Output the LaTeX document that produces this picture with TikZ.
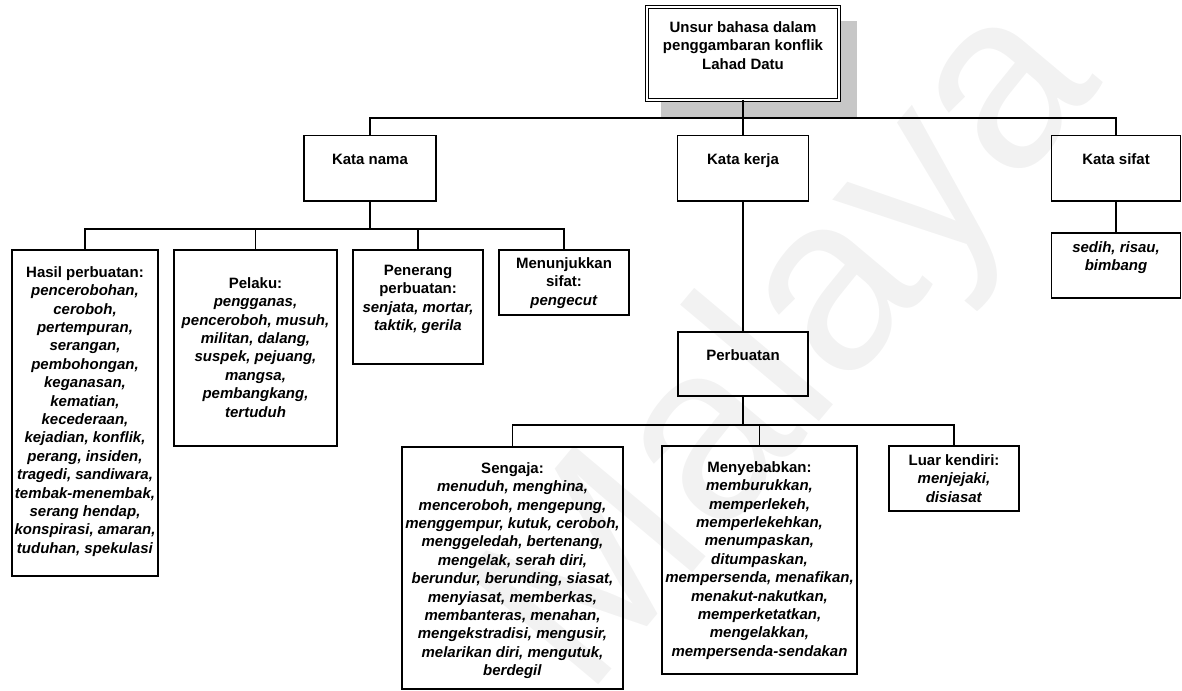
\documentclass[tikz,border=0pt]{standalone}
\usepackage{fontspec}
\setmainfont{Liberation Sans}
\usetikzlibrary{backgrounds}

% box content: width, height, top padding, lines
\newcommand{\isikotak}[4]{%
  \parbox[t][#2pt][t]{#1pt}{\centering\vspace*{#3pt}%
    \begin{tabular}{@{}c@{}}#4\end{tabular}\par}}
\newcommand{\kata}[1]{\textit{#1}}

\tikzset{
  kotak/.style={draw, line width=1.2pt, inner sep=0pt, outer sep=0pt, anchor=north,
                font=\fontsize{15}{18.4}\selectfont\bfseries},
  garis/.style={line width=1.2pt},
  bayang/.style={fill=black!22},
  tera/.style={text=black!5, font=\fontsize{250}{250}\selectfont, inner sep=0pt}
}

\begin{document}
\begin{tikzpicture}[x=1pt, y=-1pt]
\useasboundingbox (0,0) rectangle (1182,690);

% title
\node[kotak, double, double distance=1.6pt, line width=1.1pt, fill=white] (judul) at (743,7)
  {\isikotak{192}{93}{12.5}{Unsur bahasa dalam\\ penggambaran konflik\\ Lahad Datu}};

% faint lettering and the title's drop shadow, behind everything
\begin{scope}[on background layer]
  \node[tera, rotate=50] (tera) at (795,350) {Malaya};
  \fill[bayang] ([shift={(14pt,-14pt)}]judul.north west) rectangle ([shift={(18pt,-18pt)}]judul.south east);
\end{scope}

% word classes
\node[kotak] (nama)  at (370,135.5)  {\isikotak{132}{65.5}{16}{Kata nama}};
\node[kotak] (kerja) at (743,135.5)  {\isikotak{131}{65.5}{16}{Kata kerja}};
\node[kotak] (sifat) at (1116,135.5) {\isikotak{129}{65.5}{16}{Kata sifat}};

% nouns
\node[kotak] (hasil) at (85,250) {\isikotak{146}{326}{14.5}{Hasil perbuatan:\\
  \kata{pencerobohan,}\\ \kata{ceroboh,}\\ \kata{pertempuran,}\\ \kata{serangan,}\\
  \kata{pembohongan,}\\ \kata{keganasan,}\\ \kata{kematian,}\\ \kata{kecederaan,}\\
  \kata{kejadian, konflik,}\\ \kata{perang, insiden,}\\ \kata{tragedi, sandiwara,}\\
  \kata{tembak-menembak,}\\ \kata{serang hendap,}\\ \kata{konspirasi, amaran,}\\
  \kata{tuduhan, spekulasi}}};
\node[kotak] (pelaku) at (255.5,250) {\isikotak{163}{196}{25.5}{Pelaku:\\
  \kata{pengganas,}\\ \kata{penceroboh, musuh,}\\ \kata{militan, dalang,}\\
  \kata{suspek, pejuang,}\\ \kata{mangsa,}\\ \kata{pembangkang,}\\ \kata{tertuduh}}};
\node[kotak] (penerang) at (418,250) {\isikotak{130}{114}{12.5}{Penerang\\ perbuatan:\\
  \kata{senjata, mortar,}\\ \kata{taktik, gerila}}};
\node[kotak] (tunjuk) at (564,250) {\isikotak{130}{65}{5.5}{Menunjukkan\\ sifat:\\
  \kata{pengecut}}};

% verbs
\node[kotak] (buat) at (743,332) {\isikotak{130}{64}{15.5}{Perbuatan}};
\node[kotak] (sengaja) at (512.5,447) {\isikotak{221}{242}{13.5}{Sengaja:\\
  \kata{menuduh, menghina,}\\ \kata{menceroboh, mengepung,}\\
  \kata{menggempur, kutuk, ceroboh,}\\ \kata{menggeledah, bertenang,}\\
  \kata{mengelak, serah diri,}\\ \kata{berundur, berunding, siasat,}\\
  \kata{menyiasat, memberkas,}\\ \kata{membanteras, menahan,}\\
  \kata{mengekstradisi, mengusir,}\\ \kata{melarikan diri, mengutuk,}\\
  \kata{berdegil}}};
\node[kotak] (sebab) at (759.5,446) {\isikotak{195}{228}{13.5}{Menyebabkan:\\
  \kata{memburukkan,}\\ \kata{memperlekeh,}\\ \kata{memperlekehkan,}\\
  \kata{menumpaskan,}\\ \kata{ditumpaskan,}\\ \kata{mempersenda, menafikan,}\\
  \kata{menakut-nakutkan,}\\ \kata{memperketatkan,}\\ \kata{mengelakkan,}\\
  \kata{mempersenda-sendakan}}};
\node[kotak] (luar) at (954,446) {\isikotak{130}{65}{6.5}{Luar kendiri:\\
  \kata{menjejaki,}\\ \kata{disiasat}}};

% adjectives
\node[kotak] (sedih) at (1116,233) {\isikotak{129}{65}{6.5}{\kata{sedih, risau,}\\
  \kata{bimbang}}};

% connectors
\coordinate (busA) at (743,118);
\coordinate (busB) at (370,229);
\coordinate (busC) at (743,425);

\draw[garis] (judul.south) -- (kerja.north);
\draw[garis] (nama.north) |- (busA) -| (sifat.north);

\draw[garis] (nama.south) -- (busB);
\draw[garis] (hasil.north) |- (busB) -| (tunjuk.north);
\draw[garis] (pelaku.north) -- (pelaku.north |- busB);
\draw[garis] (penerang.north) -- (penerang.north |- busB);

\draw[garis] (kerja.south) -- (buat.north);
\draw[garis] (buat.south) -- (busC);
\draw[garis] (sengaja.north) |- (busC) -| (luar.north);
\draw[garis] (sebab.north) -- (sebab.north |- busC);

\draw[garis] (sifat.south) -- (sedih.north);
\end{tikzpicture}
\end{document}
